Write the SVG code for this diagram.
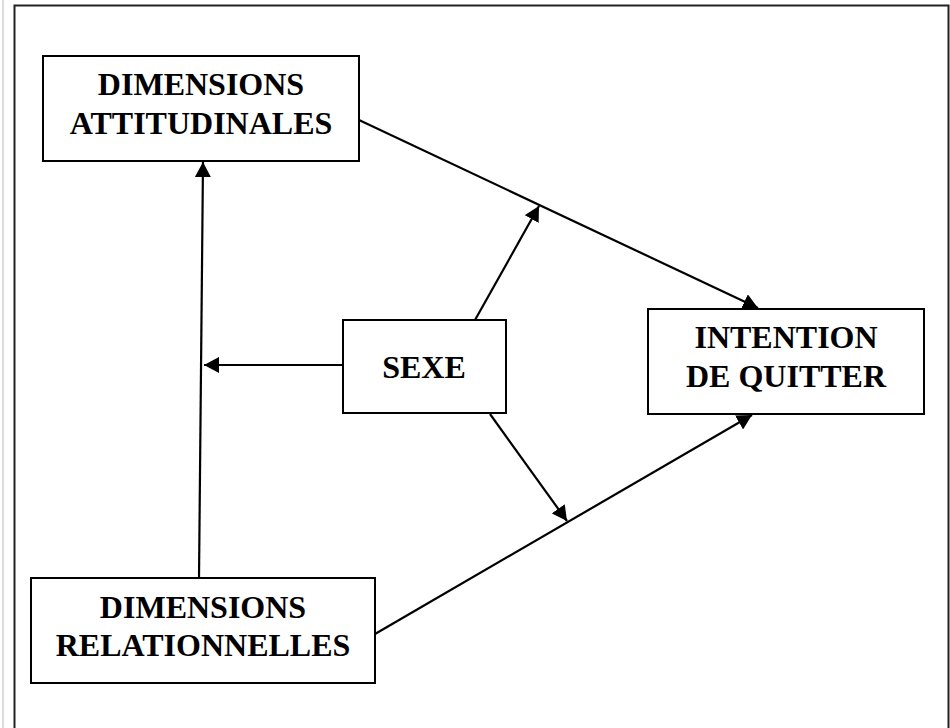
<svg xmlns="http://www.w3.org/2000/svg" width="950" height="728" viewBox="0 0 950 728">
<style>
.box{fill:#fff;stroke:#000;stroke-width:2}
.lbl{font-family:"Liberation Serif","Times New Roman",serif;font-weight:bold;font-size:32px;text-anchor:middle;fill:#000}
.con{stroke:#000;stroke-width:2.2;fill:none;marker-end:url(#ah)}
</style>
<defs>
<marker id="ah" markerWidth="16" markerHeight="16" refX="15" refY="8" orient="auto" markerUnits="userSpaceOnUse">
<path d="M0,0 L15,8 L0,16 z" fill="#000"/>
</marker>
</defs>
<rect x="0" y="0" width="950" height="728" fill="#fff"/>
<line x1="3" y1="0" x2="3" y2="728" stroke="#d0d0d0" stroke-width="1.5"/>
<path d="M14.5,728 L14.5,5.5 L948.5,5.5 L948.5,728" fill="none" stroke="#222" stroke-width="2"/>
<g id="connectors">
<line class="con" x1="199" y1="578" x2="203" y2="162"/>
<line class="con" x1="343" y1="365" x2="204" y2="365"/>
<line class="con" x1="359" y1="120" x2="758" y2="308"/>
<line class="con" x1="475" y1="320" x2="539" y2="206"/>
<line class="con" x1="490" y1="414" x2="567" y2="521"/>
<line class="con" x1="375" y1="634" x2="752" y2="415"/>
</g>
<g id="attitudinales">
<rect class="box" x="43" y="56" width="316" height="105"/>
<text class="lbl" x="201" y="95">DIMENSIONS</text>
<text class="lbl" x="201" y="134">ATTITUDINALES</text>
</g>
<g id="intention">
<rect class="box" x="648" y="309" width="276" height="105"/>
<text class="lbl" x="786" y="348">INTENTION</text>
<text class="lbl" x="786" y="387">DE QUITTER</text>
</g>
<g id="sexe">
<rect class="box" x="343" y="320" width="163" height="93"/>
<text class="lbl" x="424" y="378">SEXE</text>
</g>
<g id="relationnelles">
<rect class="box" x="31" y="578" width="344" height="105"/>
<text class="lbl" x="203" y="618">DIMENSIONS</text>
<text class="lbl" x="203" y="656">RELATIONNELLES</text>
</g>
</svg>
